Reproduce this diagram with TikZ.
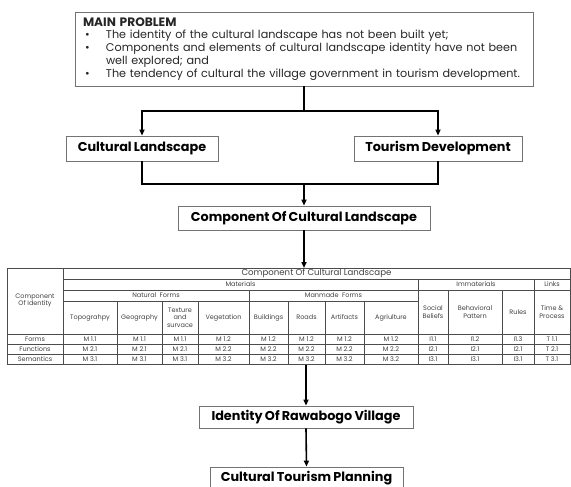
\documentclass[tikz,border=0pt]{standalone}
\usepackage{fontspec}
\setmainfont{Poppins}
\usetikzlibrary{arrows.meta}
\newcommand\tightsp{\spaceskip=2.2pt\relax}

\begin{document}
\begin{tikzpicture}[
  x=1pt, y=-1pt,
  box/.style={draw=black!55, line width=0.8pt, inner sep=0pt,
    font=\fontsize{12.8}{14}\selectfont\bfseries\tightsp},
  link/.style={line width=1.6pt, black},
  arr/.style={link, -{Triangle[length=6pt, width=5pt]}},
  rule/.style={black!70, line width=0.5pt},
  cell/.style={font=\fontsize{6.5}{7.4}\selectfont, text=black!75,
    align=center, inner sep=0pt},
]
\useasboundingbox (0,0) rectangle (571,487);

% main problem
\node[draw=black!55, line width=0.8pt, minimum width=458, minimum height=74,
  inner xsep=8pt, text width=442pt, align=left, text=black!85,
  font=\fontsize{11.2}{12.9}\selectfont] (prob) at (304,49)
  {{\fontsize{12.2}{12.9}\selectfont\bfseries MAIN PROBLEM}\\
   \makebox[23pt][l]{\hspace{2pt}\textbullet}The identity of the cultural landscape has not been built yet;\\
   \makebox[23pt][l]{\hspace{2pt}\textbullet}Components and elements of cultural landscape identity have not been\\
   \hspace*{23pt}well explored; and\\
   \makebox[23pt][l]{\hspace{2pt}\textbullet}The tendency of cultural the village government in tourism development.};

% the two sides
\node[box, minimum width=152, minimum height=25] (cl) at (142,148.5) {Cultural Landscape};
\node[box, minimum width=168, minimum height=25] (td) at (438,148.5) {Tourism Development};
\node[box, minimum width=252, minimum height=24] (coc) at (304,218) {Component Of Cultural Landscape};

\coordinate (split) at (304,111);
\coordinate (join) at (304,184);
\draw[link] (prob.south) -- (split);
\draw[arr] (split) -| (cl.north);
\draw[arr] (split) -| (td.north);
\draw[link] (cl.south) |- (join);
\draw[link] (td.south) |- (join);
\draw[arr] (join) -- (coc.north);

% table frame
\node[draw=black!70, line width=0.6pt, minimum width=563, minimum height=96,
  inner sep=0pt, anchor=north west] (tab) at (7,268) {};
\draw[arr] (coc.south) -- (coc.south |- tab.north);

% table rules
\draw[rule] (63,279) -- (570,279);
\draw[rule] (63,290) -- (570,290);
\draw[rule] (63,301) -- (418,301);
\draw[rule] (7,334) -- (570,334);
\draw[rule] (7,344) -- (570,344);
\draw[rule] (7,354) -- (570,354);
\draw[rule] (63,268) -- (63,364);
\draw[rule] (418,279) -- (418,364);
\draw[rule] (534,279) -- (534,364);
\draw[rule] (249,290) -- (249,364);
\foreach \xx in {448,502} \draw[rule] (\xx,290) -- (\xx,364);
\foreach \xx in {117,162,198,288,325,364} \draw[rule] (\xx,301) -- (\xx,364);

% table heads
\node[cell, font=\fontsize{8.6}{9}\selectfont] (hcoc) at (316.5,273.5) {Component Of Cultural Landscape};
\node[cell] (hmat) at (240.5,284.5) {Materials};
\node[cell] (himm) at (476,284.5) {Immaterials};
\node[cell] (hlnk) at (552,284.5) {Links};
\node[cell] (hnat) at (156,295.5) {Natural \ Forms};
\node[cell] (hman) at (333.5,295.5) {Manmade \ Forms};
\node[cell] (hid) at (35,300.5) {Component\\Of Identity};
\foreach \cx/\txt [count=\i] in {90/Topograhpy, 139.5/Geography,
    180/{Texture\\and\\survace}, 223.5/Vegetation, 268.5/Buildings,
    306.5/Roads, 344.5/Artifacts, 391/Agriulture}
  \node[cell] (hc\i) at (\cx,317.5) {\txt};
\foreach \cx/\txt [count=\i] in {433/{Social\\Beliefs}, 475/{Behavioral\\Pattern},
    518/Rules, 552/{Time \&\\Process}}
  \node[cell] (hi\i) at (\cx,312) {\txt};

% table rows
\node[cell] (rf) at (35,339) {Forms};
\node[cell] (rfu) at (35,349) {Functions};
\node[cell] (rs) at (35,359) {Semantics};
\foreach \cx/\a/\b/\c [count=\i] in {90/M 1.1/M 2.1/M 3.1, 139.5/M 1.1/M 2.1/M 3.1,
    180/M 1.1/M 2.1/M 3.1, 223.5/M 1.2/M 2.2/M 3.2, 268.5/M 1.2/M 2.2/M 3.2,
    306.5/M 1.2/M 2.2/M 3.2, 344.5/M 1.2/M 2.2/M 3.2, 391/M 1.2/M 2.2/M 3.2,
    433/I1.1/I2.1/I3.1, 475/I1.2/I2.1/I3.1, 518/I1.3/I2.1/I3.1, 552/T 1.1/T 2.1/T 3.1}
{
  \node[cell] (va\i) at (\cx,339) {\a};
  \node[cell] (vb\i) at (\cx,349) {\b};
  \node[cell] (vc\i) at (\cx,359) {\c};
}

% outcome
\node[box, minimum width=214, minimum height=22] (ident) at (306,417) {Identity Of Rawabogo Village};
\node[box, minimum width=193, minimum height=23] (ctp) at (306.5,478.5) {Cultural Tourism Planning};
\draw[arr] (ident.north |- tab.south) -- (ident.north);
\draw[arr] (ident.south) -- (ctp.north);

\end{tikzpicture}
\end{document}
